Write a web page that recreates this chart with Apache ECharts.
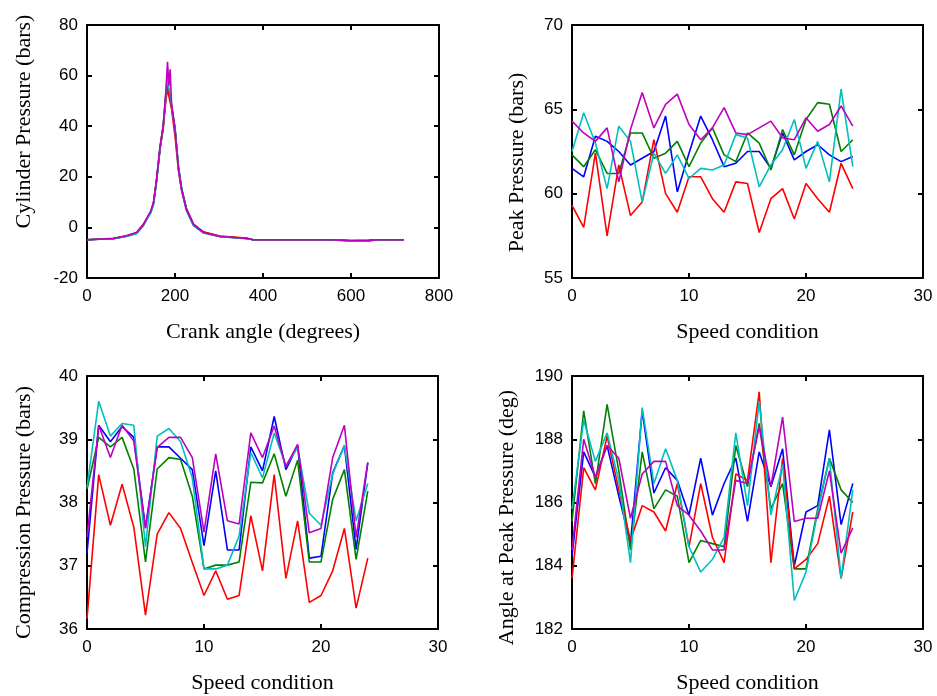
<!DOCTYPE html>
<html>
<head>
<meta charset="utf-8">
<script src="https://cdn.jsdelivr.net/npm/echarts@6/dist/echarts.min.js"></script>
<style>
  html, body { margin: 0; padding: 0; background: #fff; }
  #chart { width: 937px; height: 696px; }
</style>
</head>
<body>
<div id="chart"></div>
<script>
// crank angle trace (top left)
var angles = [0, 60, 90, 113, 128, 136, 145, 151, 158, 166, 173, 179, 183, 186, 189, 192, 200, 208, 215, 226, 242, 264, 302, 363, 378, 450, 550, 600, 640, 660, 720];
var cylBlue    = [-4.9, -4.5, -3.5, -2.3, 0.8, 3.4, 6.0, 9.2, 18.0, 31.0, 39.5, 51.0, 57.5, 54.0, 52.0, 48.0, 39.5, 23.8, 15.6, 7.4, 1.3, -1.8, -3.6, -4.4, -4.9, -4.9, -4.9, -5.3, -5.1, -4.9, -4.9];
var cylGreen   = [-4.9, -4.3, -3.4, -2.1, 1.0, 3.6, 6.2, 9.5, 18.5, 31.5, 39.8, 51.5, 57.0, 53.0, 51.0, 47.5, 39.0, 23.3, 15.2, 7.2, 1.2, -1.9, -3.5, -4.4, -4.9, -4.9, -4.9, -5.2, -5.2, -4.9, -4.9];
var cylRed     = [-4.9, -4.4, -3.3, -2.0, 1.2, 3.5, 6.3, 9.6, 18.7, 31.0, 38.5, 50.0, 54.5, 52.0, 51.5, 47.0, 36.0, 22.0, 14.5, 7.0, 1.0, -1.7, -3.4, -4.2, -4.9, -4.9, -4.9, -5.2, -5.2, -4.9, -4.9];
var cylCyan    = [-4.9, -4.5, -3.6, -2.4, 0.6, 3.2, 5.8, 9.0, 18.2, 31.5, 40.0, 52.5, 60.0, 55.0, 53.0, 48.5, 39.0, 23.0, 14.8, 6.6, 0.6, -2.2, -3.7, -4.5, -4.9, -4.9, -4.9, -5.5, -5.5, -4.9, -4.9];
var cylMagenta = [-4.9, -4.4, -3.3, -2.0, 1.1, 3.7, 6.4, 9.7, 18.9, 32.1, 40.0, 53.2, 65.5, 56.0, 62.5, 49.3, 38.7, 22.9, 15.0, 7.0, 1.1, -2.0, -3.6, -4.4, -4.9, -4.9, -4.9, -5.3, -5.3, -4.9, -4.9];

// speed conditions 0..24
var speed = [0,1,2,3,4,5,6,7,8,9,10,11,12,13,14,15,16,17,18,19,20,21,22,23,24];

var peakBlue    = [61.5, 61.0, 63.4, 63.1, 62.5, 61.7, 62.1, 62.5, 64.6, 60.1, 62.4, 64.6, 63.2, 61.6, 61.8, 62.5, 62.5, 61.5, 63.6, 62.0, 62.5, 62.9, 62.3, 61.9, 62.2];
var peakGreen   = [62.3, 61.6, 62.6, 61.2, 61.2, 63.6, 63.6, 62.1, 62.4, 63.1, 61.6, 63.0, 63.9, 62.3, 61.9, 63.6, 63.0, 61.4, 63.8, 62.3, 64.4, 65.4, 65.3, 62.5, 63.2];
var peakRed     = [59.3, 58.0, 62.4, 57.5, 61.7, 58.7, 59.5, 63.2, 60.0, 58.9, 61.0, 61.0, 59.7, 58.9, 60.7, 60.6, 57.7, 59.7, 60.3, 58.5, 60.6, 59.7, 58.9, 61.8, 60.3];
var peakCyan    = [62.5, 64.8, 63.0, 60.3, 64.0, 63.1, 59.5, 62.4, 61.2, 62.3, 60.9, 61.5, 61.4, 61.7, 63.5, 63.3, 60.4, 61.7, 62.6, 64.4, 61.5, 63.1, 60.7, 66.2, 61.6];
var peakMagenta = [64.3, 63.6, 63.1, 63.9, 60.7, 63.8, 66.0, 63.9, 65.3, 65.9, 64.1, 63.2, 63.9, 65.1, 63.6, 63.5, 63.9, 64.3, 63.3, 63.2, 64.5, 63.7, 64.1, 65.2, 64.0];

var compBlue    = [37.2, 39.22, 38.96, 39.2, 39.03, 37.6, 38.88, 38.88, 38.7, 38.52, 37.32, 38.5, 37.25, 37.25, 38.88, 38.5, 39.36, 38.52, 38.9, 37.12, 37.15, 38.47, 38.9, 37.26, 38.63];
var compGreen   = [38.21, 39.03, 38.88, 39.03, 38.53, 37.06, 38.53, 38.71, 38.68, 38.1, 36.95, 37.01, 37.01, 37.06, 38.32, 38.31, 38.77, 38.1, 38.67, 37.06, 37.06, 38.05, 38.52, 37.1, 38.18];
var compRed     = [36.16, 38.44, 37.64, 38.29, 37.61, 36.22, 37.5, 37.84, 37.59, 37.05, 36.53, 36.92, 36.47, 36.53, 37.79, 36.92, 38.44, 36.8, 37.71, 36.42, 36.53, 36.92, 37.59, 36.33, 37.12];
var compCyan    = [38.24, 39.6, 39.05, 39.25, 39.22, 37.3, 39.05, 39.17, 38.96, 38.39, 36.95, 36.95, 37.01, 37.47, 38.79, 38.39, 39.1, 38.58, 38.87, 37.83, 37.64, 38.45, 38.9, 37.71, 38.3];
var compMagenta = [37.45, 39.22, 38.71, 39.22, 38.97, 37.59, 38.87, 39.03, 39.03, 38.71, 37.53, 38.77, 37.71, 37.66, 39.1, 38.71, 39.21, 38.57, 38.92, 37.52, 37.59, 38.71, 39.22, 37.45, 38.63];

var angBlue    = [184.3, 187.6, 186.8, 187.8, 186.2, 184.7, 188.9, 186.3, 187.1, 186.7, 185.6, 187.4, 185.6, 186.6, 187.4, 185.4, 187.6, 186.5, 187.7, 184.0, 185.7, 185.9, 188.3, 185.3, 186.6];
var angGreen   = [185.4, 188.9, 186.6, 189.1, 187.0, 184.5, 187.6, 185.8, 186.4, 186.2, 184.1, 184.8, 184.7, 184.6, 187.8, 186.5, 188.5, 185.8, 186.6, 183.9, 183.9, 185.8, 187.4, 186.4, 186.0];
var angRed     = [183.6, 187.1, 186.4, 188.1, 186.4, 184.8, 185.9, 185.7, 185.1, 186.6, 184.6, 186.6, 184.9, 184.1, 186.9, 186.7, 189.5, 184.1, 187.4, 183.9, 184.2, 184.7, 186.2, 183.6, 185.7];
var angCyan    = [185.8, 188.6, 187.3, 188.2, 186.7, 184.1, 189.0, 186.6, 187.7, 186.7, 184.6, 183.8, 184.2, 184.9, 188.2, 185.9, 189.2, 185.6, 187.2, 182.9, 183.8, 185.7, 187.4, 183.6, 186.4];
var angMagenta = [184.5, 188.0, 186.8, 187.8, 187.4, 185.5, 186.9, 187.3, 187.3, 185.9, 185.6, 185.1, 184.5, 184.5, 186.7, 186.6, 188.4, 186.5, 188.7, 185.4, 185.5, 185.5, 187.0, 184.4, 185.2];

var colors = ['#0000ff', '#008000', '#ff0000', '#00bfbf', '#bf00bf'];

var grids = [
  {left: 87, top: 25, width: 352, height: 253},
  {left: 572, top: 25, width: 351, height: 253},
  {left: 87, top: 376, width: 351, height: 253},
  {left: 572, top: 376, width: 351, height: 253}
];

var xSpec = [
  {min: 0, max: 800, interval: 200, name: 'Crank angle (degrees)'},
  {min: 0, max: 30, interval: 10, name: 'Speed condition'},
  {min: 0, max: 30, interval: 10, name: 'Speed condition'},
  {min: 0, max: 30, interval: 10, name: 'Speed condition'}
];
var ySpec = [
  {min: -20, max: 80, interval: 20, name: 'Cylinder Pressure (bars)', gap: 52, pad: [0, 0, 0, 60]},
  {min: 55, max: 70, interval: 5, name: 'Peak Pressure (bars)', gap: 44, pad: [0, 22, 0, 0]},
  {min: 36, max: 40, interval: 1, name: 'Compression Pressure (bars)', gap: 52, pad: [0, 20, 0, 0]},
  {min: 182, max: 190, interval: 2, name: 'Angle at Peak Pressure (deg)', gap: 54, pad: [0, 30, 0, 0]}
];

var lineStyleAxis = {color: '#000', width: 2};
var tickFont = {fontFamily: 'Liberation Sans', fontSize: 17, color: '#000'};
var nameFont = {fontFamily: 'Liberation Serif', fontSize: 22, color: '#000'};

var xAxes = [], yAxes = [];
grids.forEach(function (g, i) {
  var xs = xSpec[i], ys = ySpec[i];
  xAxes.push({
    type: 'value', gridIndex: i, position: 'bottom', min: xs.min, max: xs.max, interval: xs.interval,
    name: xs.name, nameLocation: 'middle', nameGap: 43, nameTextStyle: nameFont,
    axisLine: {show: true, onZero: false, lineStyle: lineStyleAxis},
    axisTick: {show: true, inside: true, length: 5, lineStyle: lineStyleAxis},
    axisLabel: Object.assign({margin: 10}, tickFont),
    splitLine: {show: false}
  });
  xAxes.push({
    type: 'value', gridIndex: i, position: 'top', min: xs.min, max: xs.max, interval: xs.interval,
    axisLine: {show: true, onZero: false, lineStyle: lineStyleAxis},
    axisTick: {show: true, inside: true, length: 5, lineStyle: lineStyleAxis},
    axisLabel: {show: false}, splitLine: {show: false}
  });
  yAxes.push({
    type: 'value', gridIndex: i, position: 'left', min: ys.min, max: ys.max, interval: ys.interval,
    name: ys.name, nameLocation: 'middle', nameGap: ys.gap,
    nameTextStyle: Object.assign({padding: ys.pad}, nameFont),
    axisLine: {show: true, onZero: false, lineStyle: lineStyleAxis},
    axisTick: {show: true, inside: true, length: 5, lineStyle: lineStyleAxis},
    axisLabel: Object.assign({margin: 9}, tickFont),
    splitLine: {show: false}
  });
  yAxes.push({
    type: 'value', gridIndex: i, position: 'right', min: ys.min, max: ys.max, interval: ys.interval,
    axisLine: {show: true, onZero: false, lineStyle: lineStyleAxis},
    axisTick: {show: true, inside: true, length: 5, lineStyle: lineStyleAxis},
    axisLabel: {show: false}, splitLine: {show: false}
  });
});

function pairs(xs, ys) {
  return xs.map(function (x, k) { return [x, ys[k]]; });
}

var panels = [
  {x: angles, sets: [cylBlue, cylGreen, cylRed, cylCyan, cylMagenta]},
  {x: speed, sets: [peakBlue, peakGreen, peakRed, peakCyan, peakMagenta]},
  {x: speed, sets: [compBlue, compGreen, compRed, compCyan, compMagenta]},
  {x: speed, sets: [angBlue, angGreen, angRed, angCyan, angMagenta]}
];

var series = [];
panels.forEach(function (p, i) {
  p.sets.forEach(function (vals, c) {
    series.push({
      type: 'line', xAxisIndex: i * 2, yAxisIndex: i * 2,
      data: pairs(p.x, vals), showSymbol: false, animation: false,
      lineStyle: {color: colors[c], width: 1.6}, itemStyle: {color: colors[c]}
    });
  });
});

var chart = echarts.init(document.getElementById('chart'));
chart.setOption({
  backgroundColor: '#fff',
  animation: false,
  grid: grids,
  xAxis: xAxes,
  yAxis: yAxes,
  series: series
});
</script>
</body>
</html>
